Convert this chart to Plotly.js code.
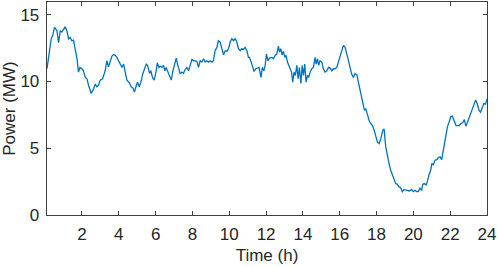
<!DOCTYPE html>
<html>
<head>
<meta charset="utf-8">
<script src="https://cdn.plot.ly/plotly-3.0.1.min.js"></script>
<style>
  html, body { margin: 0; padding: 0; background: white; }
  #chart { width: 498px; height: 267px; }
</style>
</head>
<body>
<div id="chart"></div>
<script>
// Time (h) and power (MW)
let time = [
    0.10, 0.18, 0.33, 0.40, 0.51, 0.64, 0.73, 0.82, 0.91, 1.00, 1.09, 1.18, 1.27, 1.36, 1.45, 1.54, 1.63, 1.73, 1.81, 1.89,
    2.00, 2.08, 2.18, 2.27, 2.36, 2.50, 2.63, 2.72, 2.81, 2.90, 2.99, 3.12, 3.26, 3.35, 3.44, 3.53, 3.63, 3.71, 3.81, 3.90,
    3.99, 4.08, 4.17, 4.26, 4.35, 4.44, 4.58, 4.67, 4.77, 4.85, 4.95, 5.02, 5.11, 5.20, 5.31, 5.40, 5.49, 5.56, 5.67, 5.74,
    5.83, 5.92, 6.02, 6.09, 6.18, 6.25, 6.34, 6.43, 6.50, 6.57, 6.67, 6.75, 6.85, 6.94, 7.03, 7.12, 7.19, 7.26, 7.33, 7.43,
    7.51, 7.61, 7.70, 7.79, 7.88, 7.97, 8.06, 8.15, 8.24, 8.33, 8.42, 8.51, 8.60, 8.69, 8.78, 8.87, 8.96, 9.06, 9.14, 9.23,
    9.33, 9.41, 9.51, 9.60, 9.69, 9.78, 9.87, 9.96, 10.05, 10.14, 10.23, 10.32, 10.41, 10.50, 10.59, 10.68, 10.77, 10.86, 10.96, 11.04,
    11.10, 11.19, 11.26, 11.35, 11.44, 11.53, 11.62, 11.72, 11.80, 11.88, 11.95, 12.02, 12.10, 12.18, 12.31, 12.40, 12.49, 12.58, 12.67, 12.73,
    12.80, 12.87, 12.94, 13.02, 13.09, 13.16, 13.23, 13.31, 13.38, 13.45, 13.52, 13.59, 13.67, 13.74, 13.81, 13.89, 13.96, 14.03, 14.10, 14.17,
    14.25, 14.32, 14.39, 14.48, 14.57, 14.66, 14.72, 14.79, 14.86, 14.93, 15.03, 15.11, 15.20, 15.30, 15.39, 15.48, 15.57, 15.66, 15.75, 15.84,
    15.93, 16.02, 16.11, 16.20, 16.29, 16.38, 16.47, 16.56, 16.65, 16.74, 16.83, 16.93, 17.01, 17.11, 17.19, 17.29, 17.34, 17.42, 17.51, 17.60,
    17.69, 17.78, 17.87, 17.96, 18.05, 18.14, 18.23, 18.34, 18.41, 18.50, 18.59, 18.68, 18.77, 18.86, 18.95, 19.04, 19.13, 19.22, 19.31, 19.40,
    19.49, 19.58, 19.67, 19.76, 19.91, 20.00, 20.09, 20.18, 20.27, 20.36, 20.45, 20.51, 20.60, 20.69, 20.76, 20.85, 20.94, 21.00, 21.08, 21.17,
    21.27, 21.36, 21.45, 21.54, 21.63, 21.70, 21.77, 21.85, 21.94, 22.03, 22.12, 22.21, 22.32, 22.41, 22.50, 22.59, 22.68, 22.77, 22.85, 22.94,
    23.03, 23.11, 23.20, 23.29, 23.38, 23.47, 23.56, 23.65, 23.73, 23.83, 23.92, 24.00
];

let power = [
    10.95, 11.7, 13.2, 13.4, 14.05, 13.8, 12.9, 13.8, 13.7, 13.9, 14.1, 13.8, 13.2, 13.3, 13.05, 13.1, 12.4, 11.7, 10.7, 11.05,
    10.95, 10.8, 10.3, 10.2, 9.7, 9.1, 9.45, 9.8, 9.6, 9.7, 10.1, 10.2, 10.8, 11.55, 11.1, 11.45, 11.9, 12.0, 11.95, 11.8,
    11.55, 11.2, 11.05, 11.3, 10.7, 10.1, 9.9, 9.6, 9.5, 9.2, 9.7, 9.95, 9.6, 9.95, 10.6, 10.95, 11.3, 11.2, 10.6, 10.8,
    10.3, 10.1, 10.7, 11.4, 11.05, 11.15, 11.05, 11.2, 10.8, 11.05, 10.7, 10.5, 10.1, 10.8, 11.3, 11.75, 11.3, 10.8, 10.6, 10.7,
    10.6, 10.9, 11.05, 10.8, 11.3, 11.65, 11.55, 11.5, 11.5, 11.05, 11.55, 11.45, 11.7, 11.45, 11.55, 11.45, 11.55, 11.45, 11.55, 12.3,
    12.55, 13.05, 12.95, 12.45, 12.0, 12.3, 12.25, 12.45, 12.95, 13.2, 13.05, 13.2, 12.95, 12.45, 12.3, 12.45, 12.4, 12.55, 12.3, 11.8,
    11.8, 11.45, 11.05, 10.75, 10.95, 11.0, 11.05, 10.3, 11.05, 10.8, 11.2, 12.05, 11.55, 11.75, 11.8, 11.7, 11.95, 12.05, 12.65, 12.2,
    12.45, 12.0, 12.25, 11.8, 11.95, 11.45, 11.2, 10.95, 10.7, 9.95, 10.7, 10.45, 11.2, 10.2, 11.05, 9.85, 11.2, 10.45, 11.3, 9.95,
    10.45, 10.3, 10.7, 10.95, 11.05, 11.8, 11.3, 11.7, 11.2, 11.55, 11.45, 10.95, 10.7, 10.8, 11.05, 11.0, 10.8, 10.95, 10.95, 11.05,
    11.45, 11.9, 12.4, 12.7, 12.55, 11.95, 11.6, 11.05, 10.55, 10.3, 10.6, 10.5, 9.95, 9.3, 8.7, 8.2, 7.85, 7.95, 7.45, 7.05,
    6.85, 6.7, 6.35, 5.85, 5.45, 5.35, 5.7, 6.35, 6.45, 5.1, 4.35, 3.85, 3.35, 3.0, 2.65, 2.35, 2.3, 2.1, 2.05, 1.75,
    1.9, 1.9, 1.85, 1.8, 1.9, 1.75, 1.85, 1.75, 1.75, 2.0, 1.85, 2.3, 2.35, 2.25, 2.5, 3.0, 3.35, 3.85, 3.75, 4.1,
    4.15, 4.3, 4.35, 4.15, 4.85, 5.6, 6.2, 6.6, 6.95, 7.35, 7.4, 7.1, 6.7, 6.7, 6.7, 6.85, 6.9, 7.15, 6.65, 6.95,
    7.3, 7.6, 7.85, 8.2, 8.6, 8.35, 7.85, 7.7, 7.95, 8.35, 8.3, 8.7
];

let xTicks = [2, 4, 6, 8, 10, 12, 14, 16, 18, 20, 22, 24];
let yTicks = [0, 5, 10, 15];

let axisColor = '#404040';
let fontFamily = '"Liberation Sans", Arial, sans-serif';

let trace = {
    x: time,
    y: power,
    mode: 'lines',
    type: 'scatter',
    line: { color: '#0072BD', width: 1.3 },
    hoverinfo: 'none'
};

let layout = {
    width: 498,
    height: 267,
    autosize: false,
    margin: { l: 47, r: 11, t: 2, b: 52, pad: 0 },
    showlegend: false,
    paper_bgcolor: 'white',
    plot_bgcolor: 'white',
    font: { family: fontFamily, size: 17, color: '#262626' },
    xaxis: {
        range: [0.1, 24],
        tickvals: xTicks,
        ticktext: xTicks.map(String),
        ticks: 'inside',
        ticklen: 4,
        tickcolor: axisColor,
        showline: true,
        linecolor: axisColor,
        linewidth: 1.3,
        mirror: 'ticks',
        showgrid: false,
        zeroline: false,
        ticklabelstandoff: 3,
        title: { text: 'Time (h)', font: { size: 17 }, standoff: 6 },
        automargin: false
    },
    yaxis: {
        range: [0, 15.95],
        tickvals: yTicks,
        ticktext: yTicks.map(String),
        ticks: 'inside',
        ticklen: 4,
        tickcolor: axisColor,
        showline: true,
        linecolor: axisColor,
        linewidth: 1.3,
        mirror: 'ticks',
        showgrid: false,
        zeroline: false,
        ticklabelstandoff: 3,
        title: { text: 'Power (MW)', font: { size: 17 }, standoff: 5 },
        automargin: false
    }
};

Plotly.newPlot('chart', [trace], layout, { displayModeBar: false, staticPlot: true });
</script>
</body>
</html>
